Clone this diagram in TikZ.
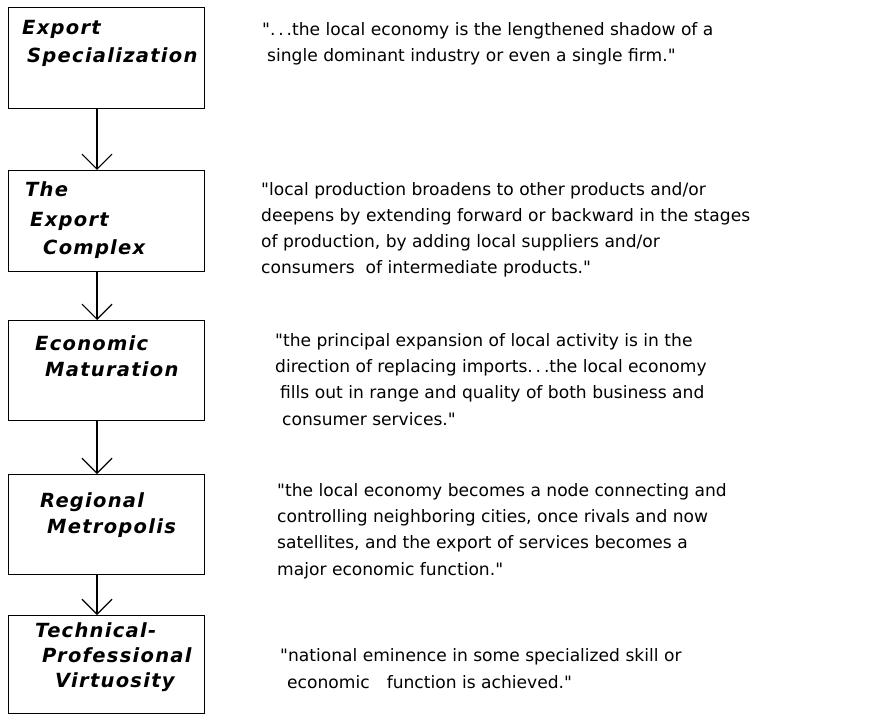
\documentclass[tikz,border=0pt]{standalone}
\usepackage{fontspec}
\setmainfont{DejaVu Sans}[Ligatures=TeXOff]
\newfontfamily\stagefont{DejaVu Sans}[LetterSpace=6.5, Ligatures=TeXOff]
\usepackage{tikz}
\usetikzlibrary{arrows.meta}
\tikzset{
  stagebox/.style={draw, line width=1.2pt, minimum width=196pt, anchor=north west, inner sep=0pt},
  stagetext/.style={anchor=base west, inner sep=0pt, font=\stagefont\fontsize{19.5}{20}\selectfont\bfseries\itshape},
  % anchored at the baseline of the last line
  quotetext/.style={anchor=base west, inner sep=0pt, align=left, font=\fontsize{17.1}{26.2}\selectfont},
  flowarrow/.style={-{Straight Barb[length=15pt, width=30pt, line width=1.2pt]}, line width=1.2pt},
}

\begin{document}
\begin{tikzpicture}[x=1pt, y=-1pt]
  \useasboundingbox (0,0) rectangle (895,714);
  % stage boxes, top to bottom
  \foreach \t/\h [count=\i] in {7/101, 170/101, 320/100, 474/100, 615/98}
    \node[stagebox, minimum height=\h pt] (s\i) at (8,\t) {};
  \foreach \i [evaluate=\i as \j using int(\i+1)] in {1,...,4}
    \draw[flowarrow] ([xshift=89pt]s\i.south west) -- ([xshift=89pt]s\j.north west);
  % stage names
  \foreach \x/\y/\w [count=\k] in {
      22/35/Export, 27/63/Specialization,
      25/197/The, 30/227/Export, 43/255/Complex,
      35/350/Economic, 45/377/Maturation,
      40/507/Regional, 47/533/Metropolis,
      35/637/Technical-, 42/662/Professional, 55/687/Virtuosity}
    \node[stagetext] (lbl\k) at (\x,\y) {\w};
  % quotations
  \node[quotetext] (q1) at (262,62) {".\,.\,.the local economy is the lengthened shadow of a\\
    \hspace{5pt}single dominant industry or even a single firm."};
  \node[quotetext] (q2) at (261,274) {"local production broadens to other products and/or\\
    deepens by extending forward or backward in the stages\\
    of production, by adding local suppliers and/or\\
    consumers\ \ of intermediate products."};
  \node[quotetext] (q3) at (275,425) {"the principal expansion of local activity is in the\\
    direction of replacing imports.\,.\,.the local economy\\
    \hspace{5pt}fills out in range and quality of both business and\\
    \hspace{7pt}consumer services."};
  \node[quotetext] (q4) at (277,575) {"the local economy becomes a node connecting and\\
    controlling neighboring cities, once rivals and now\\
    satellites, and the export of services becomes a\\
    major economic function."};
  \node[quotetext] (q5) at (280,688) {"national eminence in some specialized skill or\\
    \hspace{7pt}economic\hspace{1em}function is achieved."};
\end{tikzpicture}
\end{document}
